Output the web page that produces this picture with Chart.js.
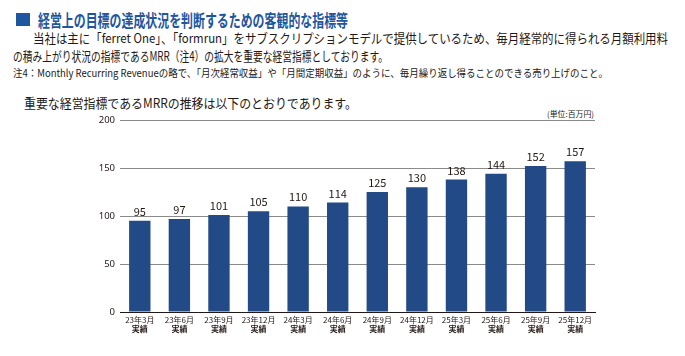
<!DOCTYPE html>
<html><head><meta charset="utf-8">
<script src="https://cdn.jsdelivr.net/npm/chart.js@4/dist/chart.umd.min.js"></script>
<style>
html,body{margin:0;padding:0;background:#fff;width:685px;height:356px;overflow:hidden;font-family:"Noto Sans CJK JP","Noto Sans",sans-serif;color:#231815;}
.t{position:absolute;white-space:nowrap;transform-origin:left center;line-height:1;}
#sq{position:absolute;left:16px;top:13px;width:14px;height:13px;background:#1f56a0;}
#wrap{position:absolute;left:0;top:100px;width:685px;height:245px;}
</style></head><body>
<div id="sq"></div>
<div class="t" id="title" data-x="38" data-y="19" data-w="310" style="font-size:17px;font-weight:bold;color:#1f56a0;">経営上の目標の達成状況を判断するための客観的な指標等</div>
<div class="t" data-x="33" data-y="37.5" data-w="635" style="font-size:13px;">当社は主に「ferret One」、「formrun」をサブスクリプションモデルで提供しているため、毎月経常的に得られる月額利用料</div>
<div class="t" data-x="13" data-y="55" data-w="375" style="font-size:13px;">の積み上がり状況の指標であるMRR（注4）の拡大を重要な経営指標としております。</div>
<div class="t" data-x="13" data-y="73" data-w="595" style="font-size:10.5px;">注4：Monthly Recurring Revenueの略で、「月次経常収益」や「月間定期収益」のように、毎月繰り返し得ることのできる売り上げのこと。</div>
<div class="t" data-x="24" data-y="102" data-w="333" style="font-size:13px;">重要な経営指標であるMRRの推移は以下のとおりであります。</div>
<div class="t" data-x="547" data-y="114" data-w="47" style="font-size:8px;">(単位:百万円)</div>
<div id="wrap"><canvas id="c" width="685" height="245"></canvas></div>
<script>
// data
const periods = ['23年3月','23年6月','23年9月','23年12月','24年3月','24年6月','24年9月','24年12月','25年3月','25年6月','25年9月','25年12月'];
const status = ['実績','実績','実績','実績','実績','実績','実績','実績','実績','実績','実績','実績'];
const mrr = [95,97,101,105,110,114,125,130,138,144,152,157];
const yTicks = [0,50,100,150,200];

document.querySelectorAll('.t').forEach(el=>{
  const x=+el.dataset.x, y=+el.dataset.y, w=+el.dataset.w;
  const r=el.getBoundingClientRect();
  const s=w/r.width;
  el.style.left=x+'px';
  el.style.top=(y-r.height/2)+'px';
  el.style.transform='scaleX('+s+')';
});

const labelPlugin={id:'vals',afterDatasetsDraw(chart){
  const ctx=chart.ctx;ctx.save();
  ctx.font='11px "Noto Sans CJK JP","Noto Sans",sans-serif';
  ctx.fillStyle='#231815';ctx.textAlign='center';ctx.textBaseline='alphabetic';
  chart.getDatasetMeta(0).data.forEach((b,i)=>{ctx.fillText(String(mrr[i]),b.x,b.y-5);});
  // second line of category labels (bold)
  const xs=chart.scales.x;
  ctx.font='bold 8px "Noto Sans CJK JP",sans-serif';
  ctx.textBaseline='top';
  status.forEach((s,i)=>{ctx.fillText(s,xs.getPixelForValue(i),xs.top+13);});
  ctx.restore();
}};

new Chart(document.getElementById('c'),{
  type:'bar',
  data:{labels:periods,datasets:[{data:mrr,backgroundColor:'#214a87',barPercentage:0.54,categoryPercentage:1}]},
  options:{responsive:false,animation:false,
    layout:{padding:{left:0,right:90,top:20,bottom:0}},
    plugins:{legend:{display:false},tooltip:{enabled:false}},
    scales:{
      x:{grid:{display:false,drawTicks:false},border:{display:true,color:'#231815',width:1},
        ticks:{color:'#231815',font:{size:8,family:'"Noto Sans CJK JP",sans-serif',lineHeight:1.15},padding:3,maxRotation:0,autoSkip:false},
        afterFit(s){s.height=33;}},
      y:{min:0,max:200,afterBuildTicks(s){s.ticks=yTicks.map(v=>({value:v}));},
        grid:{color:'#8a8a8a',lineWidth:1,drawTicks:false},border:{display:false},
        ticks:{color:'#231815',font:{size:9.5,family:'"Noto Sans",sans-serif'},padding:5},
        afterFit(s){s.width=120;}}
    }
  },
  plugins:[labelPlugin]
});
</script>
</body></html>
